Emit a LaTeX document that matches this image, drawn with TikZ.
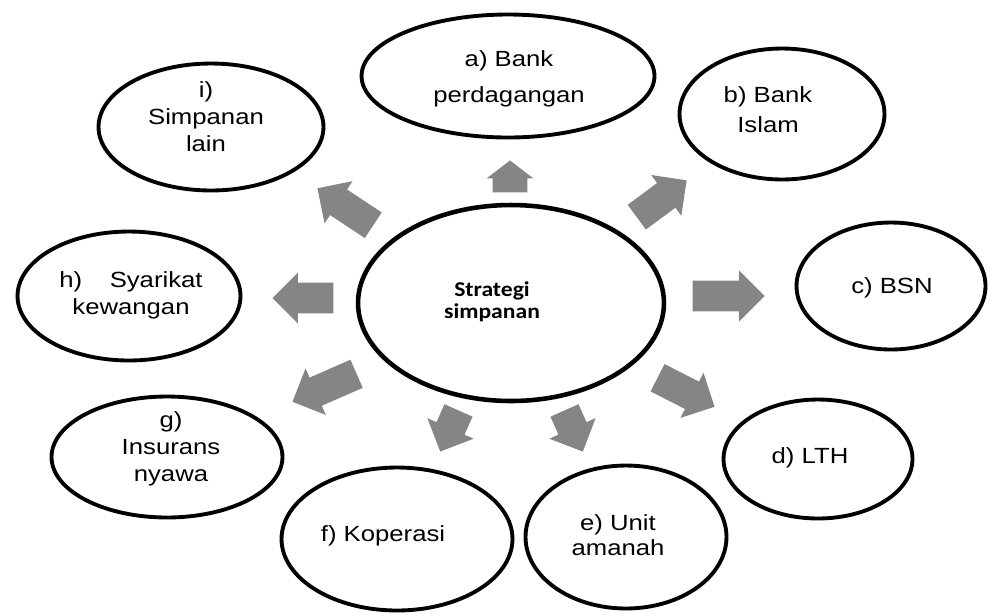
\documentclass[tikz,border=0pt]{standalone}
\usepackage{fontspec}
\setmainfont{Liberation Sans}[FakeStretch=1.17]
\newfontfamily\hubfont{Carlito}[FakeStretch=1.12]
\usetikzlibrary{shapes.geometric, shapes.arrows}

\begin{document}
\begin{tikzpicture}[
    x=0.02cm, y=-0.02cm,
    pool/.style={ellipse, draw=black, line width=2.2pt, inner sep=0pt},
    ptext/.style={anchor=north, align=center, inner sep=0pt,
                  font=\fontsize{12.5}{15.3}\selectfont},
    garr/.style={single arrow, anchor=tip, fill=black!48, draw=none,
                 inner xsep=0pt, inner ysep=0.3cm,
                 single arrow head extend=0.2cm},
  ]
    \useasboundingbox (0,0) rectangle (989,613);

    % centre
    \node[pool, line width=2.6pt, minimum width=6.12cm, minimum height=3.92cm] (hub) at (511,303) {};
    \node[anchor=north, align=center, inner sep=0pt,
          font=\fontsize{12}{12.5}\selectfont\hubfont\bfseries] (hub-t) at (492,281)
          {Strategi\\simpanan};

    % outer ellipses
    \node[pool, minimum width=5.86cm, minimum height=2.46cm] (bank) at (508,76) {};
    \node[pool, minimum width=4.10cm, minimum height=2.62cm] (islam) at (782,114) {};
    \node[pool, minimum width=3.78cm, minimum height=2.54cm] (bsn) at (891,286) {};
    \node[pool, minimum width=3.78cm, minimum height=2.38cm] (lth) at (818,459) {};
    \node[pool, minimum width=4.02cm, minimum height=2.86cm] (unit) at (626,537) {};
    \node[pool, minimum width=4.62cm, minimum height=2.86cm] (kop) at (397,539) {};
    \node[pool, minimum width=4.62cm, minimum height=2.42cm] (ins) at (167,457) {};
    \node[pool, minimum width=4.46cm, minimum height=2.58cm] (syk) at (129,296) {};
    \node[pool, minimum width=4.50cm, minimum height=2.54cm] (lain) at (211,127) {};

    % labels
    \node[ptext, font=\fontsize{12.5}{20.4}\selectfont] (bank-t) at (509,50) {a) Bank\\perdagangan};
    \node[ptext, font=\fontsize{12.5}{17}\selectfont] (islam-t) at (768,86) {b) Bank\\Islam};
    \node[ptext] (bsn-t) at (892,277) {c) BSN};
    \node[ptext] (lth-t) at (810,447) {d) LTH};
    \node[ptext, font=\fontsize{12.5}{14.5}\selectfont] (unit-t) at (618,514) {e) Unit\\amanah};
    \node[ptext] (kop-t) at (383,525) {f) Koperasi};
    \node[ptext] (ins-t) at (171,411) {g)\\Insurans\\nyawa};
    \node[ptext] (syk-t) at (131,271) {h)\hspace{0.55cm}Syarikat\\kewangan};
    \node[ptext] (lain-t) at (206,81) {i)\\Simpanan\\lain};

    % block arrows out of the hub
    \node[garr, minimum height=0.64cm, inner ysep=0.34cm,
          single arrow head extend=0.12cm, single arrow tip angle=105,
          rotate=90] (toBank) at (510,160) {};
    \node[garr, minimum height=1.24cm, rotate=36.5] (toIslam) at (687,180) {};
    \node[garr, minimum height=1.44cm, rotate=0] (toBsn) at (765,296) {};
    \node[garr, minimum height=1.28cm, rotate=-27] (toLth) at (715,407) {};
    \node[garr, minimum height=0.90cm, rotate=-66] (toUnit) at (583,452) {};
    \node[garr, minimum height=0.90cm, rotate=246] (toKop) at (440,452) {};
    \node[garr, minimum height=1.40cm, rotate=203.6] (toIns) at (292,402) {};
    \node[garr, minimum height=1.22cm, rotate=180] (toSyk) at (272,298) {};
    \node[garr, minimum height=1.34cm, rotate=146.5] (toLain) at (317,188) {};
\end{tikzpicture}
\end{document}
